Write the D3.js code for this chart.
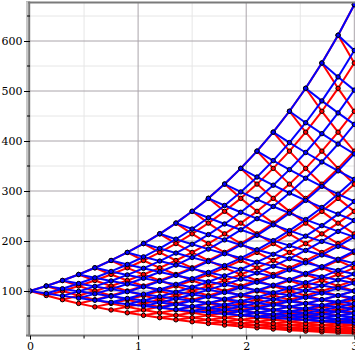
<!DOCTYPE html>
<html><head><meta charset="utf-8">
<script src="https://cdn.jsdelivr.net/npm/d3@7"></script>
<style>
html,body{margin:0;padding:0;background:#fff;}
svg{display:block;}
text{font-family:"DejaVu Serif",serif;font-size:11px;fill:#000;}
</style></head><body>
<svg id="chart" width="355" height="355"></svg>
<script>
// ---- data ----
const times = [0,0.15,0.3,0.45,0.6,0.75,0.9,1.05,1.2,1.35,1.5,1.65,1.8,1.95,2.1,2.25,2.4,2.55,2.7,2.85,3];
const startValue = [100];
const seriesNames = ["red","blue"];
const upFactors = [1.1, 1.1];
const downFactors = [0.909, 0.95];
const yTickValues = [100,200,300,400,500,600];
const yMinorValues = [50,150,250,350,450,550,650];
const xTickValues = [0,1,2,3];
const xMinorValues = [0.5,1.5,2.5];
const colors = ["#ff0000","#0000ff"];

const svg = d3.select("#chart");
const x = d3.scaleLinear().domain([0,3]).range([30,354.3]);
const y = d3.scaleLinear().domain([11,677]).range([335.5,2.5]);

// grid
const g = svg.append("g");
g.selectAll(".ymin").data(yMinorValues).join("line")
  .attr("x1",28).attr("x2",355).attr("y1",d=>y(d)).attr("y2",d=>y(d))
  .attr("stroke","#e6e6e6").attr("stroke-width",1);
g.selectAll(".xmin").data(xMinorValues).join("line")
  .attr("x1",d=>x(d)).attr("x2",d=>x(d)).attr("y1",2.5).attr("y2",335.5)
  .attr("stroke","#e6e6e6").attr("stroke-width",1);
g.selectAll(".ymaj").data(yTickValues).join("line")
  .attr("x1",28).attr("x2",355).attr("y1",d=>y(d)).attr("y2",d=>y(d))
  .attr("stroke","#aaa4aa").attr("stroke-width",1);
g.selectAll(".xmaj").data(xTickValues.filter(d=>d>0)).join("line")
  .attr("x1",d=>x(d)).attr("x2",d=>x(d)).attr("y1",2.5).attr("y2",335.5)
  .attr("stroke","#aaa4aa").attr("stroke-width",1);

// build lattices
function lattice(k){
  const u = upFactors[k], dn = downFactors[k], s0 = startValue[0];
  const nodes = [], edges = [];
  for(let n=0;n<times.length;n++){
    for(let i=0;i<=n;i++){
      const v = s0*Math.pow(u,i)*Math.pow(dn,n-i);
      nodes.push({t:times[n],v});
      if(n<times.length-1){
        edges.push({t1:times[n],v1:v,t2:times[n+1],v2:v*u});
        edges.push({t1:times[n],v1:v,t2:times[n+1],v2:v*dn});
      }
    }
  }
  return {nodes,edges};
}

const plot = svg.append("g");
seriesNames.forEach((name,k)=>{
  const L = lattice(k);
  const gg = plot.append("g").attr("class",name);
  gg.selectAll("line").data(L.edges).join("line")
    .attr("x1",d=>x(d.t1)).attr("y1",d=>y(d.v1))
    .attr("x2",d=>x(d.t2)).attr("y2",d=>y(d.v2))
    .attr("stroke",colors[k]).attr("stroke-width",2);
  gg.selectAll("circle").data(L.nodes).join("circle")
    .attr("cx",d=>x(d.t)).attr("cy",d=>y(d.v)).attr("r",2.2)
    .attr("fill",colors[k]).attr("stroke","#000").attr("stroke-width",1);
});

// frame / axes
svg.append("line").attr("x1",26).attr("x2",355).attr("y1",2.5).attr("y2",2.5)
  .attr("stroke","#7a7a7a").attr("stroke-width",2);
svg.append("rect").attr("x",26).attr("y",2).attr("width",2.2).attr("height",334).attr("fill","#c8c8c8");
svg.append("line").attr("x1",29.2).attr("x2",29.2).attr("y1",1.5).attr("y2",336.5)
  .attr("stroke","#7a7a7a").attr("stroke-width",2);
svg.append("line").attr("x1",26).attr("x2",355).attr("y1",335.6).attr("y2",335.6)
  .attr("stroke","#7a7a7a").attr("stroke-width",2);

const ya = svg.append("g").attr("transform","translate(30,0)")
  .call(d3.axisLeft(y).tickValues(yTickValues).tickSize(6).tickPadding(1.5).tickFormat(d3.format("d")));
ya.select(".domain").remove();
ya.selectAll(".tick line").attr("stroke","#000").attr("stroke-width",1);
ya.selectAll("text").style("font-family","DejaVu Serif").style("font-size","11px");
svg.append("g").selectAll("line").data(yMinorValues).join("line")
  .attr("x1",27).attr("x2",30).attr("y1",d=>y(d)).attr("y2",d=>y(d)).attr("stroke","#000");

const xa = svg.append("g").attr("transform","translate(0,335.6)")
  .call(d3.axisBottom(x).tickValues(xTickValues).tickSize(4).tickPadding(3).tickFormat(d3.format("d")));
xa.select(".domain").remove();
xa.selectAll(".tick line").attr("stroke","#000").attr("stroke-width",1);
xa.selectAll("text").style("font-family","DejaVu Serif").style("font-size","11px");
svg.append("g").selectAll("line").data(xMinorValues).join("line")
  .attr("x1",d=>x(d)).attr("x2",d=>x(d)).attr("y1",335.6).attr("y2",338.5).attr("stroke","#000");
</script>
</body></html>
